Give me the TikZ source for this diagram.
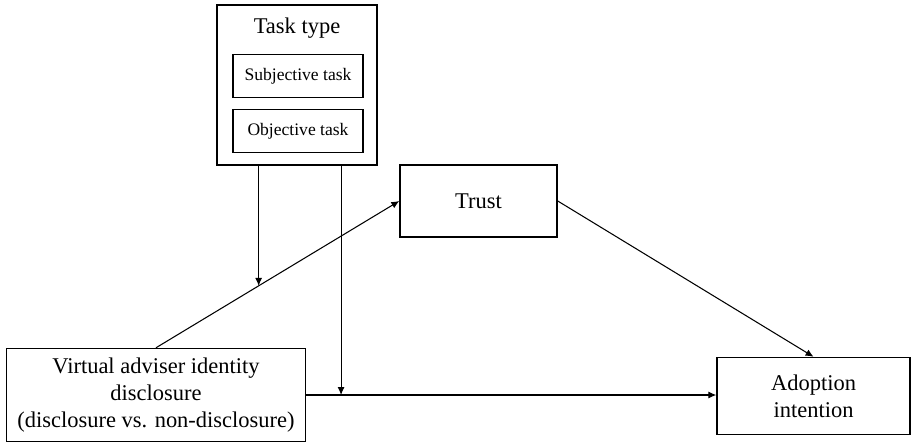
\documentclass[tikz,border=0pt]{standalone}
\usepackage{fontspec}
\setmainfont{Liberation Serif}
\usetikzlibrary{arrows.meta}

\begin{document}
\begin{tikzpicture}[x=0.02cm, y=-0.02cm,
    box/.style={draw, line width=0.85pt, align=center, inner sep=0pt,
        font=\fontsize{12.8}{15.5}\selectfont},
    small/.style={box, minimum width=2.6cm, minimum height=0.86cm,
        font=\fontsize{10}{12}\selectfont},
    arr/.style={line width=0.6pt, -{Latex[length=4.5pt,width=4pt]}}]
    \useasboundingbox (0,0) rectangle (911,446);

    % moderator
    \node[box, line width=1.1pt, minimum width=3.2cm, minimum height=3.2cm] (task) at (297,85) {};
    \node[font=\fontsize{12.8}{15.5}\selectfont] (tasklbl) at (297,28) {Task type};
    \node[small] (subj) at (298,76) {Subjective task};
    \node[small] (obj) at (298,131) {Objective task};

    % main variables
    \node[box, minimum width=3.14cm, minimum height=1.44cm] (trust) at (478.5,201) {Trust};
    \node[box, minimum width=5.98cm, minimum height=1.86cm] (vad) at (156,395)
        {Virtual adviser identity\\disclosure\\(disclosure vs. non-disclosure)};
    \node[box, minimum width=3.86cm, minimum height=1.54cm] (adopt) at (813.5,396)
        {Adoption\\intention};

    % paths
    \draw[arr] (vad.north) -- (trust.west) coordinate[pos=0.422] (m1);
    \draw[arr] (trust.east) -- (adopt.north);
    \draw[arr] (vad.east) -- (vad.east -| adopt.west) coordinate[pos=0.085] (m2);

    % moderation
    \draw[arr] (task.south -| m1) -- (m1);
    \draw[arr] (task.south -| m2) -- (m2);
\end{tikzpicture}
\end{document}
